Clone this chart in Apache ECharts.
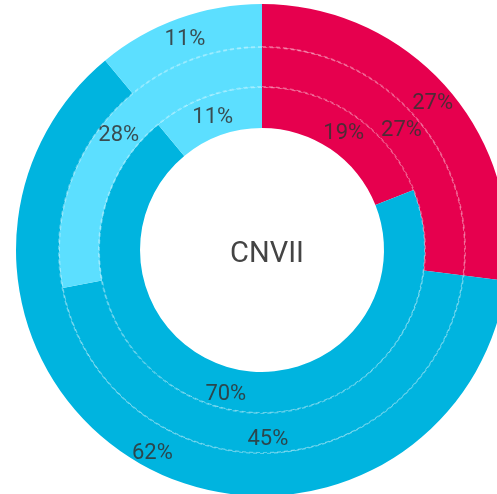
<!DOCTYPE html>
<html style="height: 100%">
<head>
    <meta charset="utf-8">
</head>
<body style="height: 100%; margin: 0">
<div id="container" style="height: 100%"></div>
<script type="text/javascript" src="https://cdn.jsdelivr.net/npm/echarts@6/dist/echarts.min.js"></script>
<script type="text/javascript">
    var dom = document.getElementById("container");
    var myChart = echarts.init(dom);
    var option;

    // slices, clockwise from 12 o'clock
    var sliceNames = ['A', 'B', 'C'];
    var innerValues = [19, 70, 11];
    var middleValues = [27, 45, 28];
    var outerValues = [27, 62, 11];
    var centerText = 'CNVII';

    var colors = ['#e6004e', '#00b4df', '#5cdfff'];
    var cx = 262, cy = 250;

    function ringData(values) {
        return values.map(function (v, i) {
            return { name: sliceNames[i], value: v };
        });
    }

    function ring(values, r0, r1) {
        return {
            type: 'pie',
            center: [cx, cy],
            radius: [r0, r1],
            startAngle: 90,
            clockwise: true,
            silent: true,
            avoidLabelOverlap: false,
            label: {
                show: true,
                position: 'inside',
                formatter: '{c}%',
                color: 'rgba(51,51,51,0.85)',
                fontSize: 22,
                fontFamily: 'Roboto',
                offset: [0, 4]
            },
            labelLine: { show: false },
            data: ringData(values)
        };
    }

    // thin dashed divider between rings
    function divider(r) {
        return {
            type: 'pie',
            center: [cx, cy],
            radius: [r - 0.5, r + 0.5],
            silent: true,
            z: 5,
            label: { show: false },
            labelLine: { show: false },
            itemStyle: {
                color: 'transparent',
                borderColor: 'rgba(255,255,255,0.6)',
                borderWidth: 0.6,
                borderType: [4, 3]
            },
            data: [{ value: 1 }]
        };
    }

    option = {
        color: colors,
        animation: false,
        title: {
            text: centerText,
            left: cx,
            top: cy,
            textAlign: 'center',
            textVerticalAlign: 'middle',
            textStyle: {
                color: '#444',
                fontSize: 29,
                fontWeight: 'normal',
                fontFamily: 'Roboto'
            }
        },
        series: [
            ring(innerValues, 122, 163),
            ring(middleValues, 163, 203),
            ring(outerValues, 203, 246),
            divider(163),
            divider(203)
        ]
    };
    if (option && typeof option === 'object') {
        myChart.setOption(option);
    }
</script>
</body>
</html>
